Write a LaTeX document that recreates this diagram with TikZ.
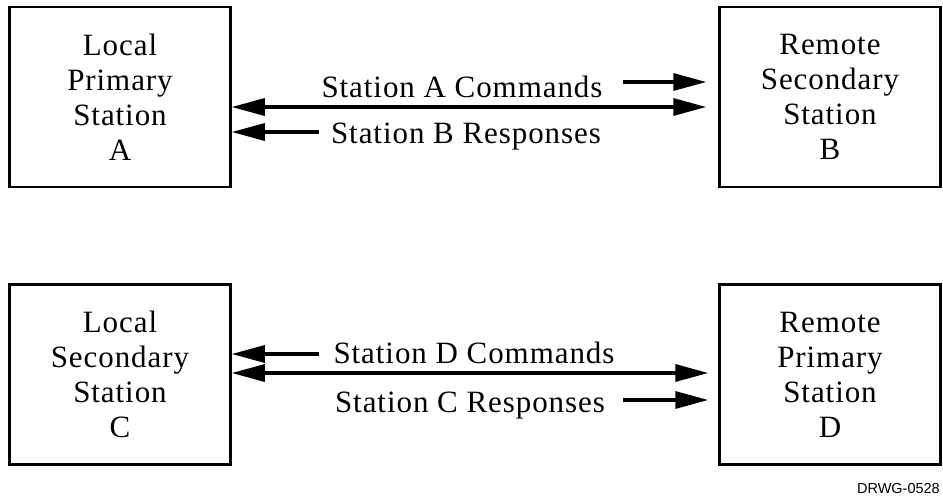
\documentclass[tikz,border=0pt]{standalone}
\usepackage{fontspec}
\setmainfont[LetterSpace=3]{Liberation Serif}
\setsansfont{Liberation Sans}
\usepackage{tikz}
\usetikzlibrary{arrows.meta}

\newcommand{\stationfont}{\fontsize{31}{35}\selectfont}

\begin{document}
\begin{tikzpicture}[x=1pt, y=-1pt]
        % Define styles
        \tikzstyle{station} = [rectangle, minimum width=221pt, minimum height=180pt, align=center, draw=black, line width=2.5pt, font=\stationfont]
        \tikzstyle{msg} = [anchor=base, inner sep=0pt, font=\stationfont]
        \tikzstyle{arrow} = [line width=3.3pt, -{Triangle[length=33pt, width=17pt]}]
        \tikzstyle{dblarrow} = [line width=3.3pt, {Triangle[length=33pt, width=17pt]}-{Triangle[length=33pt, width=17pt]}]

        \useasboundingbox (0,0) rectangle (943,498);

        % Nodes
        \node [station] (A) at (120,97) {Local\\Primary\\Station\\A};
        \node [station] (B) at (830,97) {Remote\\Secondary\\Station\\B};
        \node [station] (C) at (120,374.5) {Local\\Secondary\\Station\\C};
        \node [station] (D) at (830,374.5) {Remote\\Primary\\Station\\D};

        % Free ends of the short arrows
        \coordinate (cmdA) at (623,82);
        \coordinate (rspB) at (319,132);
        \coordinate (cmdD) at (319,354);
        \coordinate (rspC) at (623,400);

        % Arrows
        \draw [dblarrow] ([yshift=-10pt]A.east) -- ([xshift=-12pt, yshift=-10pt]B.west);
        \draw [arrow] (cmdA) -- ([xshift=-12pt, yshift=15pt]B.west);
        \draw [arrow] (rspB) -- ([yshift=-35pt]A.east);
        \draw [dblarrow] ([yshift=1.5pt]C.east) -- ([xshift=-10pt, yshift=1.5pt]D.west);
        \draw [arrow] (cmdD) -- ([yshift=20.5pt]C.east);
        \draw [arrow] (rspC) -- ([xshift=-10pt, yshift=-25.5pt]D.west);

        % Labels
        \node [msg] (cmdAtext) at (462,97) {Station A Commands};
        \node [msg] (rspBtext) at (466,143) {Station B Responses};
        \node [msg] (cmdDtext) at (474,363) {Station D Commands};
        \node [msg] (rspCtext) at (470,412) {Station C Responses};
        \node [anchor=base east, inner sep=0pt, font=\sffamily\fontsize{14.5}{16}\selectfont] (drwg) at (940,493) {DRWG-0528};
    \end{tikzpicture}
\end{document}
